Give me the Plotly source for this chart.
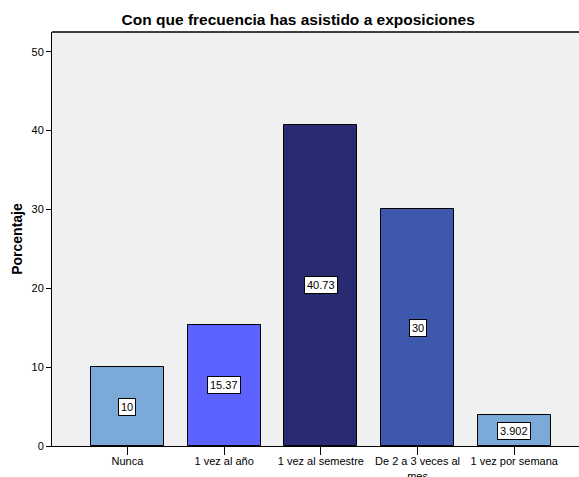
import plotly.graph_objects as go

categorias = ["Nunca", "1 vez al año", "1 vez al semestre", "De 2 a 3 veces al<br>mes", "1 vez por semana"]
porcentajes = [10, 15.37, 40.73, 30, 3.902]
etiquetas = ["10", "15.37", "40.73", "30", "3.902"]
colores = ["#7BAAD8", "#5C62FF", "#282A72", "#3D58AD", "#7BAAD8"]

fig = go.Figure()
fig.add_trace(go.Bar(
    x=list(range(len(categorias))),
    y=porcentajes,
    width=0.755,
    marker=dict(color=colores, line=dict(color="black", width=1)),
    hoverinfo="skip",
))

# value boxes at mid-height of each bar
for i, (v, t) in enumerate(zip(porcentajes, etiquetas)):
    fig.add_annotation(
        x=i, y=v / 2, text=t, showarrow=False,
        font=dict(family="Liberation Sans, Arial", size=11, color="black"),
        bgcolor="white", bordercolor="black", borderwidth=1, borderpad=2,
    )

# top frame line
fig.add_shape(type="line", xref="paper", yref="paper", x0=0, x1=1, y0=1, y1=1,
              line=dict(color="black", width=1.5))

fig.update_layout(
    width=579, height=477,
    margin=dict(l=52, r=0, t=32, b=31),
    paper_bgcolor="white",
    plot_bgcolor="#F0F0F0",
    showlegend=False,
    bargap=0,
    title=dict(
        text="<b>Con que frecuencia has asistido a exposiciones</b>",
        x=0.515, xanchor="center", y=0.958, yanchor="middle",
        font=dict(family="Liberation Sans, Arial", size=15.5, color="black"),
    ),
    xaxis=dict(
        range=[-0.78, 4.67],
        tickvals=list(range(len(categorias))),
        ticktext=categorias,
        ticks="outside", ticklen=8, tickcolor="black", tickwidth=1,
        ticklabelstandoff=-3,
        showline=True, linecolor="black", linewidth=1,
        showgrid=False, zeroline=False, automargin=False,
        tickfont=dict(family="Liberation Sans, Arial", size=11, color="black"),
    ),
    yaxis=dict(
        range=[0, 52.5],
        tickvals=[0, 10, 20, 30, 40, 50],
        ticks="outside", ticklen=5, tickcolor="black", tickwidth=1,
        showline=True, linecolor="black", linewidth=1,
        showgrid=False, zeroline=False, automargin=False,
        tickfont=dict(family="Liberation Sans, Arial", size=11, color="black"),
        title=dict(text="<b>Porcentaje</b>", standoff=5,
                   font=dict(family="Liberation Sans, Arial", size=14, color="black")),
    ),
)

fig.write_html("out.html")
